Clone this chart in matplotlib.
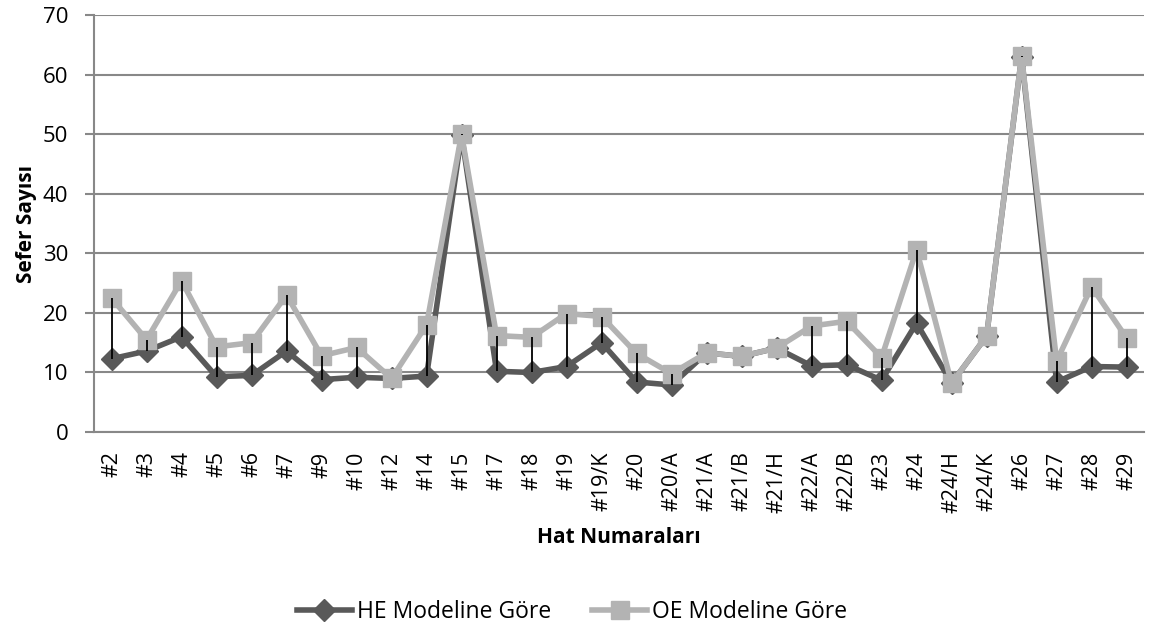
import matplotlib
matplotlib.use('Agg')
import matplotlib.pyplot as plt
import numpy as np

plt.rcParams['font.family'] = ['Open Sans', 'DejaVu Sans']

hatlar = ['#2', '#3', '#4', '#5', '#6', '#7', '#9', '#10', '#12', '#14', '#15',
          '#17', '#18', '#19', '#19/K', '#20', '#20/A', '#21/A', '#21/B', '#21/H',
          '#22/A', '#22/B', '#23', '#24', '#24/H', '#24/K', '#26', '#27', '#28', '#29']

# Sefer sayilari, her hat icin
he_model = [12.3, 13.6, 16.0, 9.3, 9.5, 13.6, 8.8, 9.2, 9.0, 9.4, 49.9,
            10.2, 10.0, 11.0, 15.0, 8.4, 7.9, 13.3, 12.7, 14.1,
            11.1, 11.3, 8.7, 18.3, 8.2, 16.1, 63.0, 8.4, 11.0, 10.9]
oe_model = [22.5, 15.5, 25.4, 14.3, 15.0, 23.0, 12.8, 14.2, 9.0, 18.0, 50.0,
            16.2, 15.9, 19.9, 19.4, 13.2, 9.8, 13.3, 12.7, 14.1,
            17.8, 18.6, 12.5, 30.6, 8.2, 16.1, 63.1, 11.9, 24.4, 15.8]

x = np.arange(len(hatlar))
grid_col = '#888888'

fig = plt.figure(figsize=(11.51, 6.33), dpi=100)
ax = fig.add_axes([0.0817, 0.3175, 0.9123, 0.6585])

ax.plot(x, he_model, color='#595959', lw=4.0, marker='D', ms=11.5,
        label='HE Modeline Göre', zorder=3)
ax.plot(x, oe_model, color='#b3b3b3', lw=4.0, marker='s', ms=13,
        label='OE Modeline Göre', zorder=4)
# high-low cizgileri
ax.vlines(x, he_model, oe_model, color='black', lw=1.3, zorder=5)

ax.set_xlim(-0.5, len(hatlar) - 0.5)
ax.set_ylim(0, 70)
ax.set_yticks(range(0, 71, 10))
ax.set_xticks(x)
ax.set_xticklabels(hatlar, rotation=90, fontsize=15.5)
ax.tick_params(axis='y', labelsize=16, length=6.5, width=1.5, color=grid_col, pad=12)
ax.tick_params(axis='x', length=0, pad=14)
ax.yaxis.grid(True, color=grid_col, lw=1.5)
ax.set_axisbelow(True)
for s in ['top', 'right']:
    ax.spines[s].set_visible(False)
for s in ['left', 'bottom']:
    ax.spines[s].set_color(grid_col)
    ax.spines[s].set_linewidth(1.5)

ax.set_ylabel('Sefer Sayısı', fontsize=15, fontweight='bold', labelpad=4)
ax.set_xlabel('Hat Numaraları', fontsize=15, fontweight='bold', labelpad=10)

fig.legend(*ax.get_legend_handles_labels(), loc='center', bbox_to_anchor=(0.497, 0.033),
           ncol=2, frameon=False, fontsize=16.5, handlelength=2.4, handletextpad=0.22,
           columnspacing=1.8, borderaxespad=0)

fig.savefig('out.png')
